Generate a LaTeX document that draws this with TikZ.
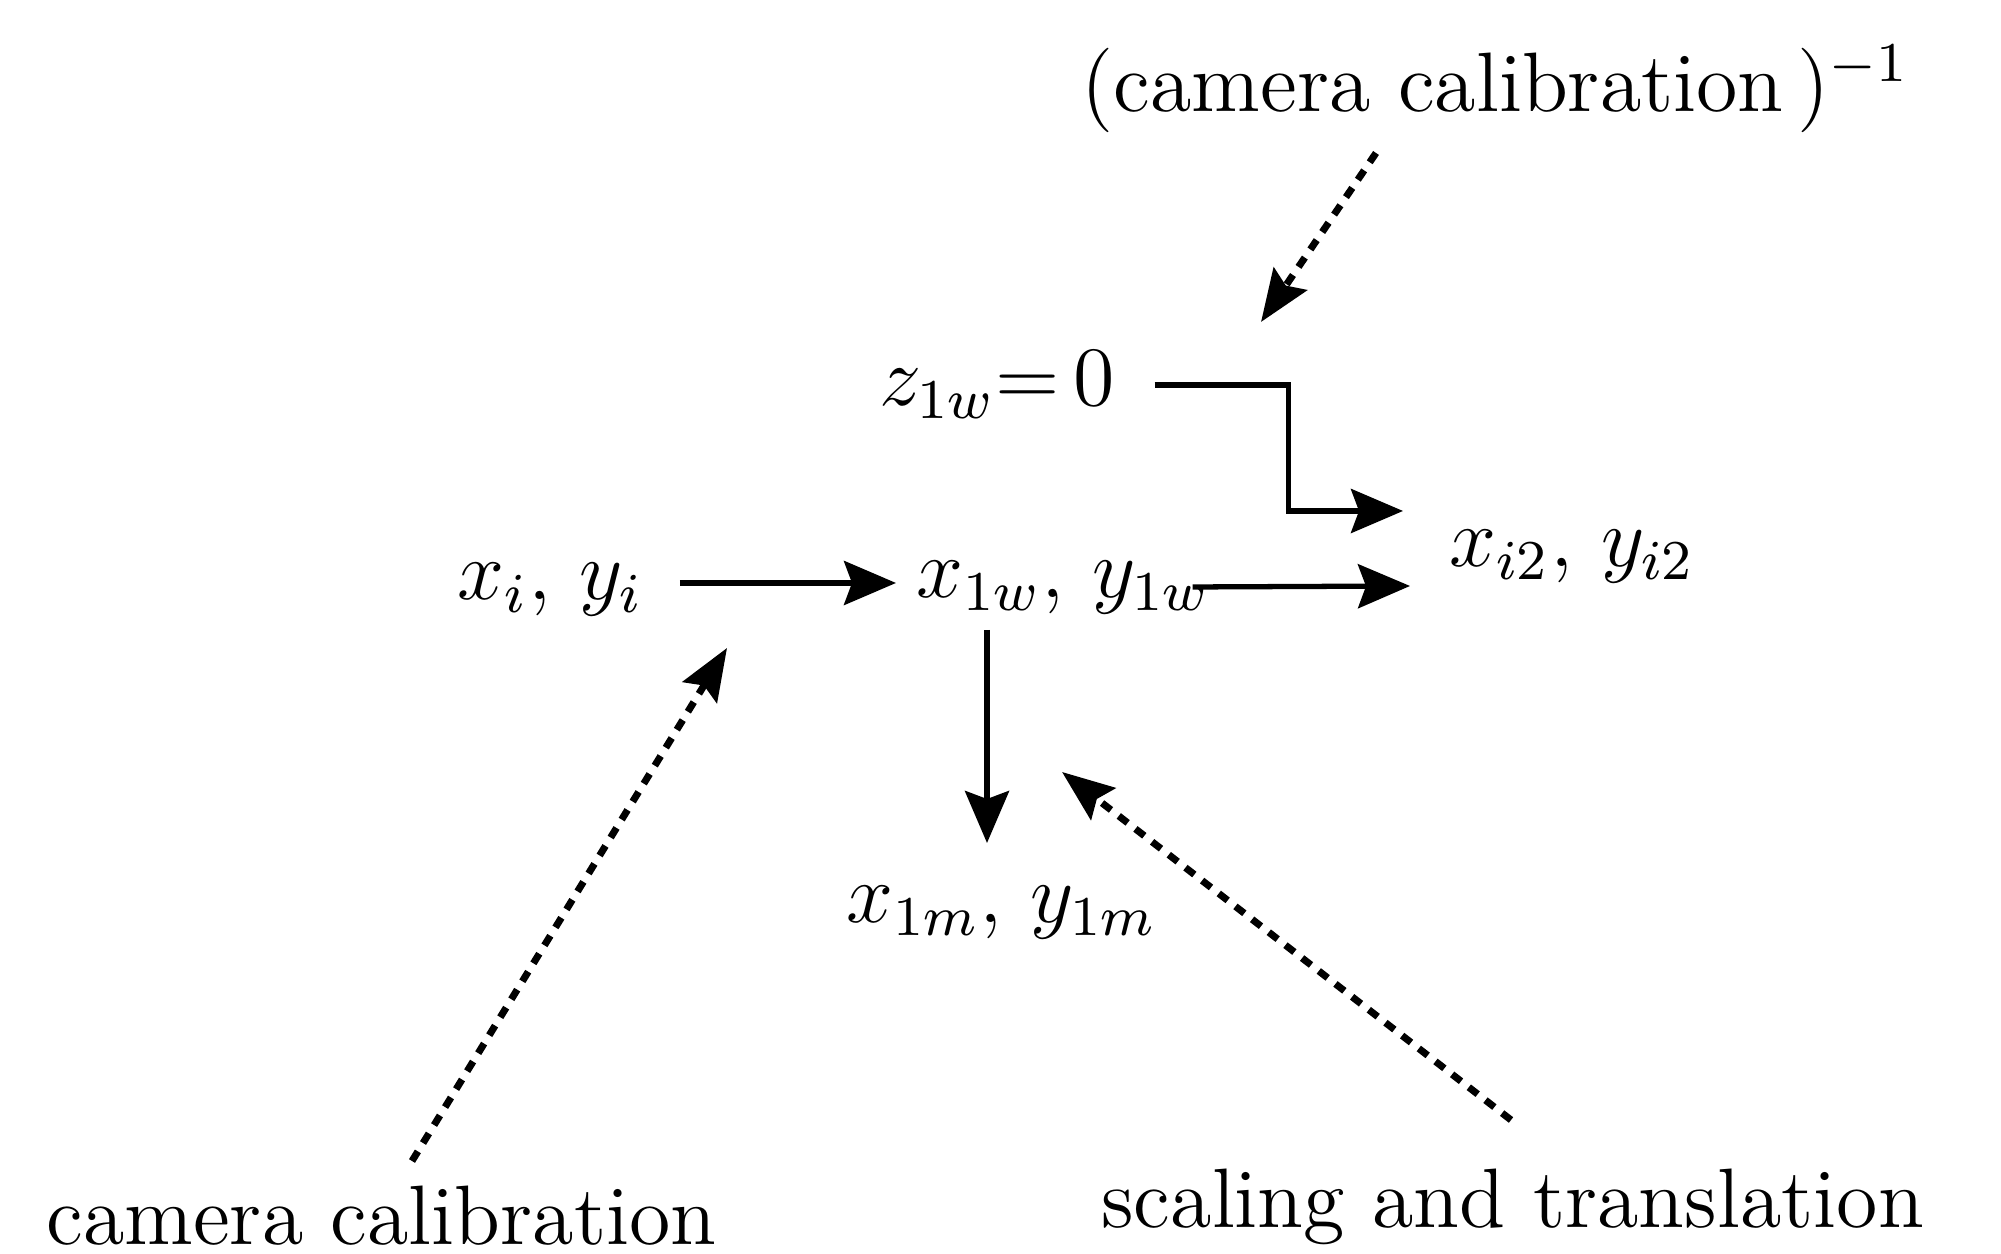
\documentclass[tikz,border=0pt]{standalone}
\usetikzlibrary{arrows.meta}
\tikzset{lbl/.style={inner sep=0pt, anchor=base west,
    font=\fontsize{12}{14}\selectfont},
  flow/.style={line width=0.75pt,
    -{Stealth[length=2.6mm, width=2.2mm, inset=0.4mm]}},
  hint/.style={line width=1pt, dash pattern=on 1.6pt off 1.4pt,
    -{Stealth[length=2.6mm, width=2mm, inset=0.4mm]}}}

\begin{document}
\begin{tikzpicture}[x=0.05mm, y=-0.05mm]
\useasboundingbox (0,0) rectangle (2001,1254);
% labels and quantities
\node[lbl] (inv) at (1080,112) {(camera calibration\,)$^{-1}$};
\node[lbl] (zw) at (878,406) {$z_{1w}{=}\,0$};
\node[lbl] (xi) at (456,600) {$x_i,\,y_i$};
\node[lbl] (xw) at (915,598) {$x_{1w},\,y_{1w}$};
\node[lbl] (xii) at (1448,567) {$x_{i2},\,y_{i2}$};
\node[lbl] (xm) at (845,923) {$x_{1m},\,y_{1m}$};
\node[lbl] (cal) at (45,1245) {camera calibration};
\node[lbl] (sct) at (1100,1228) {scaling and translation};
% solid transformations
\draw[flow] ([shift={(35,-17)}]xi.base east)
  -- ([shift={(-19,-15)}]xw.base west);
\draw[flow] ([shift={(-19,-11)}]xw.base east)
  -- ([shift={(-38,19)}]xii.base west);
\draw[flow] ([shift={(38,-21)}]zw.base east) -- ++(134,0)
  |- ([shift={(-45,-56)}]xii.base west);
\draw[flow] ([shift={(72,32)}]xw.base west)
  -- ([shift={(142,-80)}]xm.base west);
% dotted pointers
\draw[hint] ([shift={(296,41)}]inv.base west)
  -- ([shift={(383,-84)}]zw.base west);
\draw[hint] ([shift={(367,-84)}]cal.base west)
  -- ([shift={(271,48)}]xi.base west);
\draw[hint] ([shift={(411,-108)}]sct.base west)
  -- ([shift={(217,-151)}]xm.base west);
\end{tikzpicture}
\end{document}
